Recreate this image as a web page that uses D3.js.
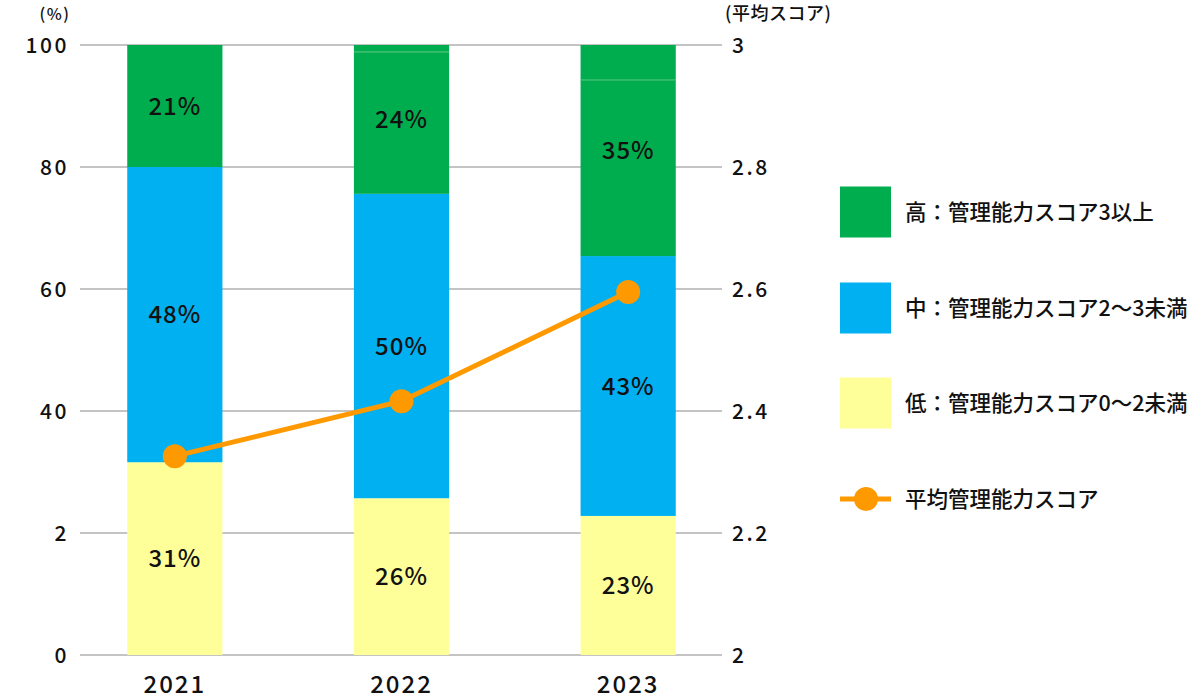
<!DOCTYPE html>
<html><head><meta charset="utf-8">
<script src="https://cdn.jsdelivr.net/npm/d3@7"></script>
<style>body{margin:0;background:#fff;}svg{display:block;font-family:"Noto Sans CJK JP","Noto Sans",sans-serif;font-weight:500;}</style>
</head><body>
<svg id="c" width="1200" height="700"></svg>
<script>
const years = ["2021", "2022", "2023"];
const lowVals = [31.6, 25.7, 22.8];
const midVals = [48.4, 49.9, 42.6];
const highVals = [20.0, 23.3, 28.9];
const highExtraVals = [0, 1.1, 5.7];
const lowLabels = ["31%", "26%", "23%"];
const midLabels = ["48%", "50%", "43%"];
const highLabels = ["21%", "24%", "35%"];
const avgScore = [2.326, 2.416, 2.595];
const leftTicks = [0, 20, 40, 60, 80, 100];
const leftTickLabels = ["0", "2", "40", "60", "80", "100"];
const rightTicks = [2, 2.2, 2.4, 2.6, 2.8, 3];
const rightTickLabels = ["2", "2.2", "2.4", "2.6", "2.8", "3"];
const legendLabels = ["高：管理能力スコア3以上", "中：管理能力スコア2～3未満", "低：管理能力スコア0～2未満", "平均管理能力スコア"];

const C = {green: "#00AD4E", blue: "#00B0F0", yellow: "#FFFF99", orange: "#FF9900", grid: "#C4C4C4"};
const svg = d3.select("#c");
const x = d3.scaleBand().domain(years).range([61.5, 741.5]).paddingInner(0.58).paddingOuter(0.29);
const y = d3.scaleLinear().domain([0, 100]).range([655, 45]);
const y2 = d3.scaleLinear().domain([2, 3]).range([655, 45]);

// gridlines
svg.append("g").selectAll("line").data(leftTicks).join("line")
  .attr("x1", 80).attr("x2", 722).attr("y1", d => y(d)).attr("y2", d => y(d))
  .attr("stroke", C.grid).attr("stroke-width", 2);

// left labels
svg.append("g").selectAll("text").data(leftTicks).join("text")
  .attr("x", 69).attr("y", d => y(d)).attr("dy", "0.36em").attr("text-anchor", "end")
  .attr("font-size", 21).attr("letter-spacing", 2.5).attr("fill", "#111").text((d, i) => leftTickLabels[i]);
// right labels
svg.append("g").selectAll("text").data(rightTicks).join("text")
  .attr("x", 732).attr("y", d => y2(d)).attr("dy", "0.36em").attr("text-anchor", "start")
  .attr("font-size", 21).attr("letter-spacing", 2.5).attr("fill", "#111").text((d, i) => rightTickLabels[i]);
svg.append("text").attr("x", 55).attr("y", 20).attr("text-anchor", "middle").attr("font-size", 16).attr("letter-spacing", 1.5).attr("fill", "#111").text("(%)");
svg.append("text").attr("x", 725).attr("y", 20).attr("font-size", 18).attr("letter-spacing", 0.5).attr("fill", "#111").text("(平均スコア)");

// stacked bars
const rows = years.map((yr, i) => ({year: yr, low: lowVals[i], mid: midVals[i], high: highVals[i], high2: highExtraVals[i]}));
const keys = ["low", "mid", "high", "high2"];
const colors = {low: C.yellow, mid: C.blue, high: C.green, high2: C.green};
const stack = d3.stack().keys(keys)(rows);
const g = svg.append("g");
stack.forEach(s => {
  g.selectAll(null).data(s).join("rect")
    .attr("x", d => x(d.data.year)).attr("width", x.bandwidth())
    .attr("y", d => y(d[1])).attr("height", d => Math.max(0, y(d[0]) - y(d[1])))
    .attr("fill", colors[s.key]);
});
// faint seam between high segments
const hs = stack[3];
g.selectAll(null).data(hs.filter(d => d[1] - d[0] > 0)).join("line")
  .attr("x1", d => x(d.data.year)).attr("x2", d => x(d.data.year) + x.bandwidth())
  .attr("y1", d => y(d[0]) + 0.5).attr("y2", d => y(d[0]) + 0.5)
  .attr("stroke", "#3DBD6E").attr("stroke-width", 1);

// labels inside bars
function segLabels(idxStart, idxEnd, labels) {
  svg.append("g").selectAll("text").data(rows).join("text")
    .attr("x", d => x(d.year) + x.bandwidth() / 2)
    .attr("y", (d, i) => y((stack[idxStart][i][0] + stack[idxEnd][i][1]) / 2))
    .attr("dy", "0.36em").attr("text-anchor", "middle").attr("font-size", 24).attr("letter-spacing", 1).attr("fill", "#111")
    .text((d, i) => labels[i]);
}
segLabels(0, 0, lowLabels);
segLabels(1, 1, midLabels);
segLabels(2, 3, highLabels);

// x labels
svg.append("g").selectAll("text").data(years).join("text")
  .attr("x", d => x(d) + x.bandwidth() / 2).attr("y", 684).attr("dy", "0.36em")
  .attr("text-anchor", "middle").attr("font-size", 24).attr("fill", "#111").attr("letter-spacing", 2).text(d => d);

// line
const line = d3.line().x((d, i) => x(years[i]) + x.bandwidth() / 2).y(d => y2(d));
svg.append("path").datum(avgScore).attr("d", line).attr("fill", "none").attr("stroke", C.orange).attr("stroke-width", 5);
svg.append("g").selectAll("circle").data(avgScore).join("circle")
  .attr("cx", (d, i) => x(years[i]) + x.bandwidth() / 2).attr("cy", d => y2(d)).attr("r", 12).attr("fill", C.orange);

// legend
const lg = svg.append("g");
const legColors = [C.green, C.blue, C.yellow];
const legY = [212, 308, 403, 499];
legColors.forEach((c, i) => {
  lg.append("rect").attr("x", 840).attr("y", legY[i] - 25.5).attr("width", 51).attr("height", 51).attr("fill", c);
});
lg.append("line").attr("x1", 840).attr("x2", 891).attr("y1", legY[3]).attr("y2", legY[3]).attr("stroke", C.orange).attr("stroke-width", 5);
lg.append("circle").attr("cx", 866).attr("cy", legY[3]).attr("r", 12).attr("fill", C.orange);
legendLabels.forEach((t, i) => {
  lg.append("text").attr("x", 905).attr("y", legY[i]).attr("dy", "0.36em").attr("font-size", 21.5).attr("fill", "#111").text(t);
});
</script>
</body></html>
